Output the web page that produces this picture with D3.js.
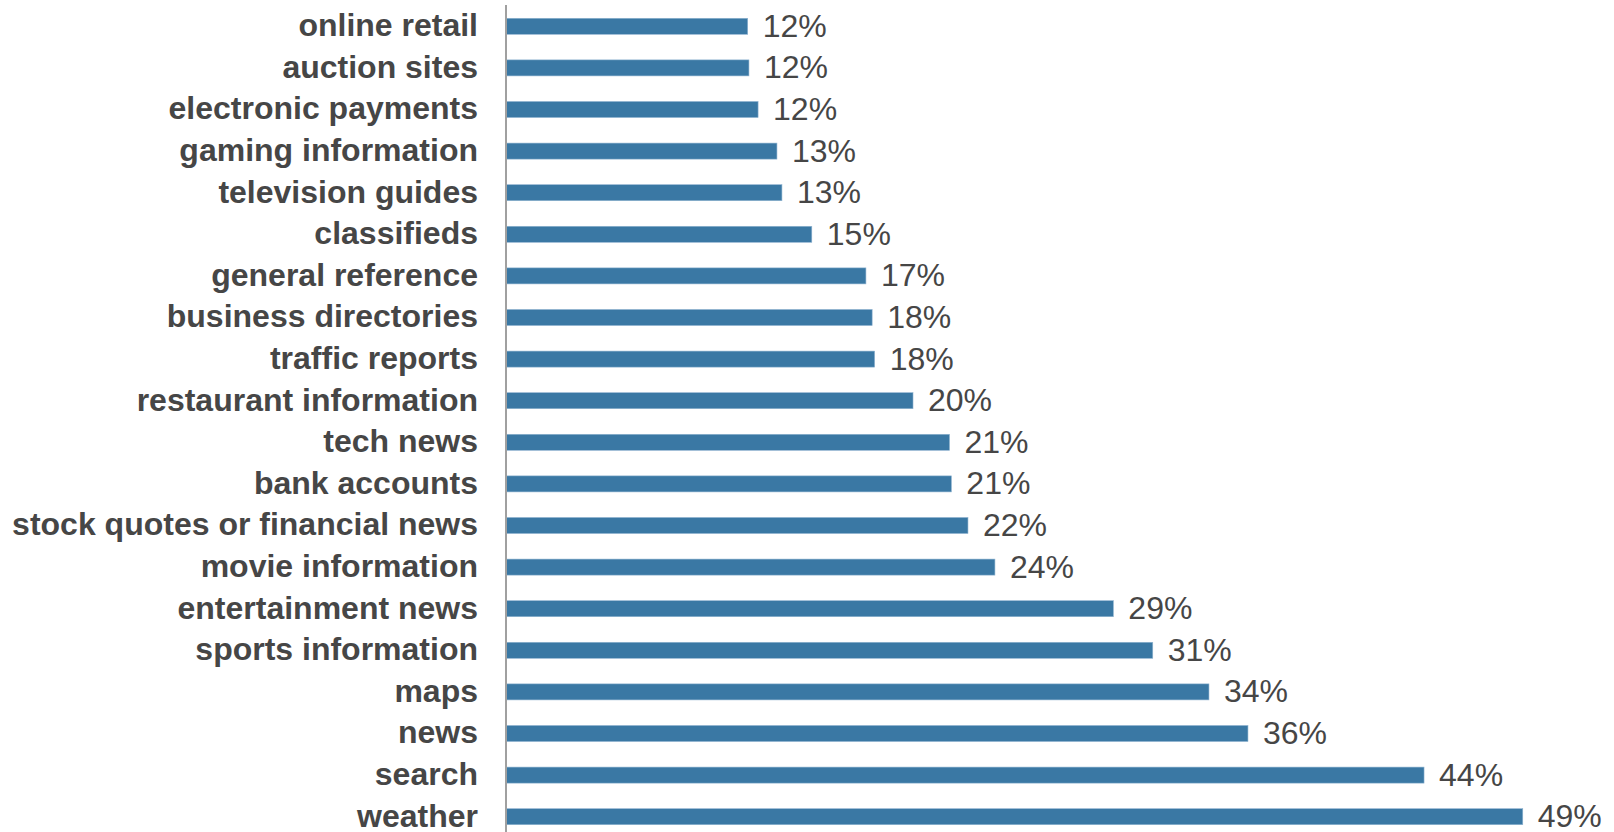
<!DOCTYPE html>
<html>
<head>
<meta charset="utf-8">
<script src="https://cdn.jsdelivr.net/npm/d3@7"></script>
<style>
  html, body { margin: 0; padding: 0; background: #fff; }
  svg { display: block; }
</style>
</head>
<body>
<svg id="chart" width="1614" height="832"></svg>
<script>
// Share of mobile users accessing each content category
const categories = [
  "online retail", "auction sites", "electronic payments", "gaming information",
  "television guides", "classifieds", "general reference", "business directories",
  "traffic reports", "restaurant information", "tech news", "bank accounts",
  "stock quotes or financial news", "movie information", "entertainment news",
  "sports information", "maps", "news", "search", "weather"
];
const values = [
  11.63, 11.69, 12.13, 13.04,
  13.28, 14.72, 17.33, 17.63,
  17.75, 19.6, 21.36, 21.45,
  22.25, 23.55, 29.26,
  31.16, 33.87, 35.75, 44.24, 49.0
];
const valueDomain = [0, 50];

const data = categories.map((c, i) => ({ category: c, value: values[i] }));

const svg = d3.select("#chart");
const fontFamily = "Arial, 'Liberation Sans', Helvetica, sans-serif";
const textColor = "#464646";

const x = d3.scaleLinear().domain(valueDomain).range([506.5, 506.5 + 50 * 20.74]);
const y = d3.scaleBand()
  .domain(categories)
  .range([5.5, 837.5])
  .paddingInner(0.615)
  .paddingOuter(0.3075);

// bars
svg.append("g")
  .selectAll("rect")
  .data(data)
  .join("rect")
  .attr("x", x(0))
  .attr("y", d => y(d.category))
  .attr("width", d => x(d.value) - x(0))
  .attr("height", y.bandwidth())
  .attr("fill", "#3a78a4")
  .attr("stroke", "#8fb3d0")
  .attr("stroke-width", 0.6);

// value labels
svg.append("g")
  .selectAll("text")
  .data(data)
  .join("text")
  .attr("x", d => x(d.value) + 15)
  .attr("y", d => y(d.category) + y.bandwidth() / 2)
  .attr("dy", "0.33em")
  .attr("font-family", fontFamily)
  .attr("font-size", 32)
  .attr("fill", textColor)
  .text(d => Math.round(d.value) + "%");

// category axis
const axis = svg.append("g")
  .attr("transform", `translate(${x(0) - 0.5},0)`)
  .call(d3.axisLeft(y).tickSize(0).tickPadding(28));

axis.select(".domain")
  .attr("d", "M0,5V832")
  .attr("stroke", "#a0a0a0")
  .attr("stroke-width", 2);

axis.selectAll(".tick text")
  .attr("font-family", fontFamily)
  .attr("font-size", 32)
  .attr("font-weight", "bold")
  .attr("fill", textColor)
  .attr("dy", "0.31em");
</script>
</body>
</html>
